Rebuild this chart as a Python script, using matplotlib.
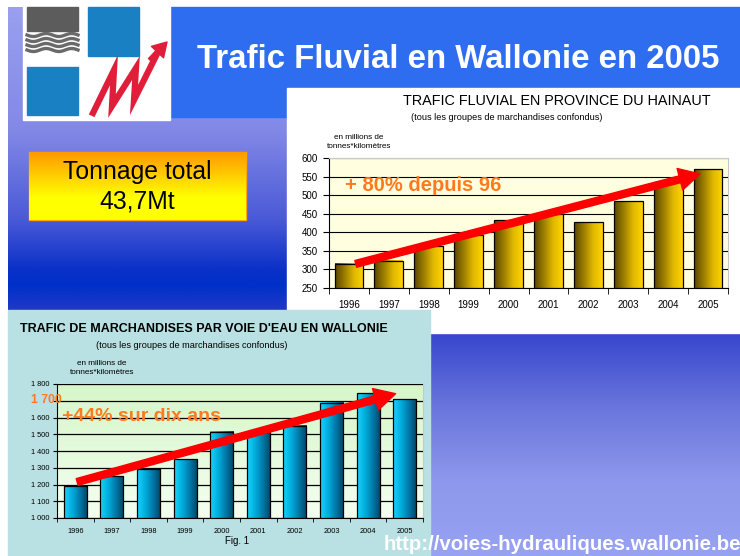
import numpy as np
import matplotlib
matplotlib.use('Agg')
import matplotlib.pyplot as plt
from matplotlib.colors import LinearSegmentedColormap
from matplotlib.patches import Rectangle
from matplotlib.transforms import blended_transform_factory

plt.rcParams['font.family'] = ['Liberation Sans', 'DejaVu Sans']

# data
years = ['1996', '1997', '1998', '1999', '2000', '2001', '2002', '2003', '2004', '2005']
hainaut = [315, 323, 362, 392, 432, 450, 427, 483, 535, 570]
wallonie = [1190, 1248, 1292, 1350, 1515, 1515, 1550, 1687, 1746, 1710]
hainaut_ticks = [250, 300, 350, 400, 450, 500, 550, 600]
wallonie_ticks = [1000, 1100, 1200, 1300, 1400, 1500, 1600, 1700, 1800]
hainaut_arrow = [(0.17, 315), (8.8, 557)]
wallonie_arrow = [(0.05, 1215), (8.75, 1742)]
title = 'Trafic Fluvial en Wallonie en 2005'
hainaut_title = 'TRAFIC FLUVIAL EN PROVINCE DU HAINAUT'
wallonie_title = "TRAFIC DE MARCHANDISES PAR VOIE D'EAU EN WALLONIE"
subtitle = '(tous les groupes de marchandises confondus)'
unit = 'en millions de\ntonnes*kilomètres'
orange = '#ff7a1e'


def vgrad(ax, x0, x1, y0, y1, colors, zorder=0):
    # vertical gradient in pixel coords (y axis inverted)
    cmap = LinearSegmentedColormap.from_list('v', colors)
    g = np.linspace(0, 1, 256).reshape(-1, 1)
    ax.imshow(g, cmap=cmap, aspect='auto', extent=(x0, x1, y1, y0),
              origin='upper', zorder=zorder, interpolation='bilinear')


def gradient_bars(ax, values, width, bottom, colors):
    cmap = LinearSegmentedColormap.from_list('h', colors)
    g = np.linspace(0, 1, 64).reshape(1, -1)
    x = np.arange(len(values))
    bars = ax.bar(x, np.array(values) - bottom, width, bottom=bottom,
                  facecolor='none', edgecolor='black', lw=0.9, zorder=4)
    for b in bars:
        ax.imshow(g, cmap=cmap, aspect='auto', zorder=3,
                  extent=(b.get_x(), b.get_x() + b.get_width(), bottom, b.get_y() + b.get_height()))


fig = plt.figure(figsize=(7.4, 5.56), dpi=100)
fig.patch.set_facecolor('white')

bg = fig.add_axes([0, 0, 1, 1])
bg.set_xlim(0, 740)
bg.set_ylim(556, 0)
bg.axis('off')

# slide backgrounds
vgrad(bg, 8, 287, 7, 310, [(0, '#9aa0ee'), (0.41, '#8288e6'), (0.70, '#4a5ad7'),
                           (0.87, '#0a30c8'), (0.92, '#0030c8'), (1, '#2038c8')])
vgrad(bg, 430, 740, 333, 556, ['#3646cd', '#6a76dc', '#8e98ec', '#98a2f2'])
bg.add_patch(Rectangle((168, 7), 572, 110, color='#2e6cf0', zorder=1))
bg.add_patch(Rectangle((287, 88), 453, 245, color='white', zorder=2))
bg.add_patch(Rectangle((8, 310), 422, 246, color='#b9e0e2', zorder=2))

# logo
bg.add_patch(Rectangle((23, 0), 147, 120, color='white', zorder=2))
bg.add_patch(Rectangle((27, 7), 51, 24, color='#5c5c5c', zorder=3))
xw = np.linspace(27, 78, 100)
for k in range(4):
    bg.plot(xw, 35 + 5 * k + 1.5 * np.sin((xw - 27) / 51 * 4 * np.pi), color='#6a6a6a', lw=2.4, zorder=3)
bg.add_patch(Rectangle((88, 7), 51, 49, color='#1a80c4', zorder=3))
bg.add_patch(Rectangle((27, 67), 51, 48, color='#1a80c4', zorder=3))
bg.plot([93, 114, 112, 136, 134, 158], [113, 70, 106, 68, 100, 52], color='#e01e3a', lw=4.5,
        solid_joinstyle='miter', zorder=3)
bg.annotate('', xy=(167, 42), xytext=(150, 60),
            arrowprops=dict(facecolor='#e01e3a', edgecolor='#e01e3a', width=3, headwidth=12, headlength=10),
            zorder=3)

# titles and texts
bg.text(458, 60, title, color='white', fontsize=23.8, fontweight='bold', ha='center', va='center', zorder=5)
bg.add_patch(Rectangle((29, 152), 217, 68, color='orange', zorder=3))
vgrad(bg, 29, 246, 152, 220, ['#ff9900', '#ffcc00', '#ffff00', '#ffff00'], zorder=4)
bg.text(137, 172, 'Tonnage total', fontsize=17.8, ha='center', va='center', zorder=5)
bg.text(137, 202, '43,7Mt', fontsize=17.8, ha='center', va='center', zorder=5)

bg.text(557, 101, hainaut_title, fontsize=10.4, ha='center', va='center', zorder=5)
bg.text(507, 117, subtitle, fontsize=6.6, ha='center', va='center', zorder=5)
bg.text(359, 142, unit, fontsize=5.9, ha='center', va='center', linespacing=1.5, zorder=5)

bg.text(204, 329, wallonie_title, fontsize=9.0, fontweight='bold', ha='center', va='center', zorder=5)
bg.text(192, 346, subtitle, fontsize=6.6, ha='center', va='center', zorder=5)
bg.text(102, 368, unit, fontsize=5.85, ha='center', va='center', linespacing=1.5, zorder=5)
bg.text(237, 541, 'Fig. 1', fontsize=7, ha='center', va='center', zorder=5)

bg.text(741, 544, 'http://voies-hydrauliques.wallonie.be', color='white', fontsize=14.7,
        fontweight='bold', ha='right', va='center', zorder=5)

# Hainaut chart
ax1 = fig.add_axes([329 / 740, 1 - 288 / 556, 399 / 740, 130 / 556])
ax1.set_facecolor('#ffffe0')
gradient_bars(ax1, hainaut, 0.72, 250, ['#5a4600', '#9c7e00', '#e0b800', '#ffd400'])
ax1.set_xlim(-0.5, 9.5)
ax1.set_ylim(250, 600)
ax1.set_yticks(hainaut_ticks)
ax1.yaxis.grid(True, color='black', lw=0.8)
ax1.set_axisbelow(True)
ax1.set_xticks(range(len(years)))
ax1.set_xticklabels(years)
ax1.set_xticks(np.arange(-0.5, 10, 1), minor=True)
ax1.tick_params(axis='x', which='major', length=0, pad=9, labelsize=7)
ax1.tick_params(axis='x', which='minor', length=4, direction='out')
ax1.tick_params(axis='y', length=4, direction='out', pad=4, labelsize=7)
for s in ['top', 'right']:
    ax1.spines[s].set_color('#c8c8c8')
ax1.annotate('', xy=hainaut_arrow[1], xytext=hainaut_arrow[0],
             arrowprops=dict(facecolor='red', edgecolor='red', width=5, headwidth=16, headlength=15),
             zorder=6)
ax1.text(1.85, 527, '+ 80% depuis 96', color=orange, fontsize=14.5, fontweight='bold',
         ha='center', va='center', zorder=7)

# Wallonie chart
ax2 = fig.add_axes([57 / 740, 1 - 518 / 556, 366 / 740, 134 / 556])
g = np.linspace(0, 1, 256).reshape(-1, 1)
ax2.imshow(g, cmap=LinearSegmentedColormap.from_list('bgg', ['#d6f6c8', '#f4fff0']), aspect='auto',
           extent=(0, 1, 0, 1), transform=ax2.transAxes, zorder=0)
gradient_bars(ax2, wallonie, 0.63, 1000, ['#18d4fa', '#00aede', '#0078a8', '#004462'])
ax2.set_xlim(-0.5, 9.5)
ax2.set_ylim(1000, 1800)
ax2.set_yticks(wallonie_ticks)
ax2.set_yticklabels(['' if v == 1700 else f'{v // 1000} {v % 1000:03d}' for v in wallonie_ticks])
ax2.yaxis.grid(True, color='black', lw=0.9, zorder=1)
ax2.set_axisbelow(False)
ax2.set_xticks(range(len(years)))
ax2.set_xticklabels(years)
ax2.set_xticks(np.arange(-0.5, 10, 1), minor=True)
ax2.tick_params(axis='x', which='major', length=0, pad=7, labelsize=5.3)
ax2.tick_params(axis='x', which='minor', length=3, direction='out')
ax2.tick_params(axis='y', length=3, direction='out', pad=2.5, labelsize=5.3)
for s in ['top', 'right']:
    ax2.spines[s].set_color('#c8c8c8')
ax2.text(-0.028, 1703, '1 700', color=orange, fontsize=8.8, fontweight='bold', ha='center', va='center',
         transform=blended_transform_factory(ax2.transAxes, ax2.transData), clip_on=False, zorder=8)
ax2.annotate('', xy=wallonie_arrow[1], xytext=wallonie_arrow[0],
             arrowprops=dict(facecolor='red', edgecolor='red', width=5, headwidth=16, headlength=15),
             zorder=6)
ax2.text(1.82, 1603, '+44% sur dix ans', color=orange, fontsize=14, fontweight='bold',
         ha='center', va='center', zorder=7)

fig.savefig('out.png', dpi=100)
